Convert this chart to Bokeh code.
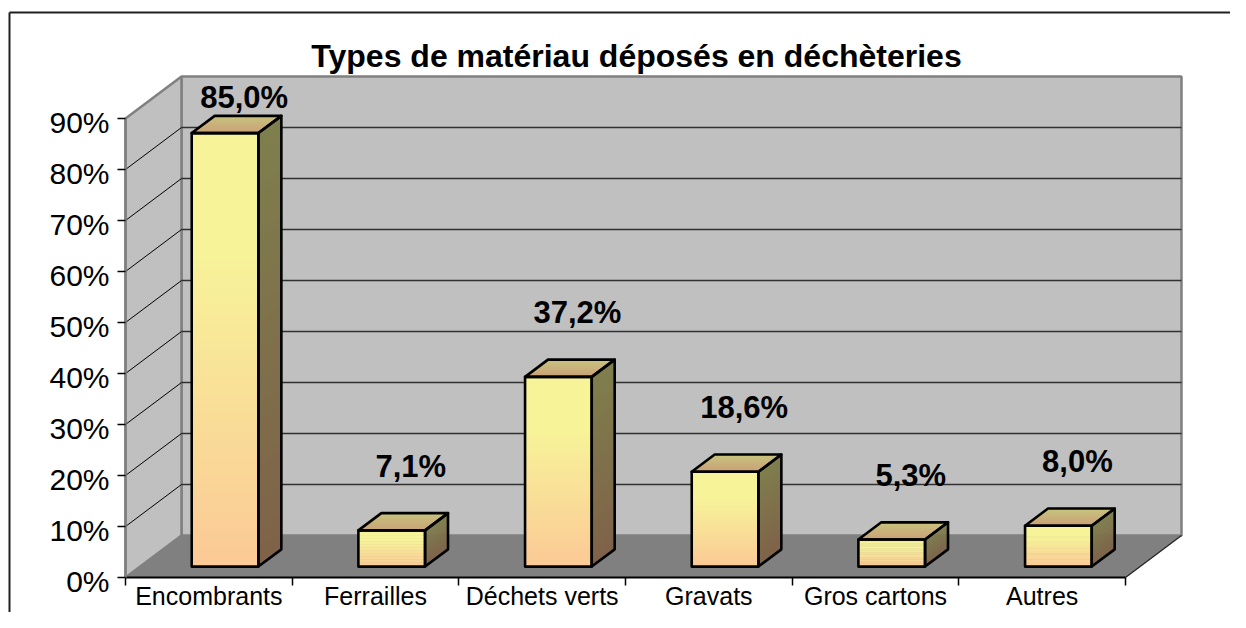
from bokeh.plotting import figure
from bokeh.models import ColumnDataSource, Range1d, LinearAxis, FixedTicker, Label
from bokeh.core.properties import value
from bokeh.embed import file_html
from bokeh.resources import INLINE

# ---------------- data ----------------
categories = ["Encombrants", "Ferrailles", "Déchets verts", "Gravats", "Gros cartons", "Autres"]
values = [85.0, 7.1, 37.2, 18.6, 5.3, 8.0]
ytick_values = [0, 10, 20, 30, 40, 50, 60, 70, 80, 90]
ytick_labels = ["0%", "10%", "20%", "30%", "40%", "50%", "60%", "70%", "80%", "90%"]
title_text = "Types de matériau déposés en déchèteries"

# ---------------- geometry / style ----------------
FONT = "Liberation Sans"
W, H = 1230, 612
PXC = 1000.0 / 6.0      # px per category
PXV = 5.1               # px per percent
ORIGIN_X = 125          # canvas px of category 0
ORIGIN_Y = 577          # canvas px of 0 %
x_start = -ORIGIN_X / PXC
x_end = x_start + W / PXC
y_start = -(H - ORIGIN_Y) / PXV
y_end = y_start + H / PXV

N = len(categories)
VMAX = ytick_values[-1]
DX = 56.0 / PXC         # depth offset (full depth) in category units
DY = 42.0 / PXV         # depth offset in percent units
D0, D1 = 0.26, 0.67     # bar depth span
BAR_OFF, BAR_W = 0.31, 0.40
NS, NT = 48, 14         # gradient strips
TEXT_SHIFT = 12.5 / PXV  # compensation for baseline placement of text glyphs


def hx(c):
    c = c.lstrip("#")
    return tuple(int(c[i:i + 2], 16) for i in (0, 2, 4))


def mix(c1, c2, t):
    a, b = hx(c1), hx(c2)
    t = max(0.0, min(1.0, t))
    return "#%02x%02x%02x" % tuple(int(round(a[i] + (b[i] - a[i]) * t)) for i in range(3))


FRONT_BOT, FRONT_TOP = "#fbc996", "#f7f399"
SIDE_BOT, SIDE_TOP = "#7f6249", "#7f7f4d"
TOP_FRONT, TOP_BACK = "#c9a078", "#c8c47e"


def P(fx, v, d):
    return fx + DX * d, v + DY * d


p = figure(width=W, height=H, output_backend="svg", toolbar_location=None,
           x_range=Range1d(x_start, x_end), y_range=Range1d(y_start, y_end),
           x_axis_type=None, y_axis_type=None, min_border=0,
           min_border_left=0, min_border_right=0, min_border_top=0, min_border_bottom=0)
p.outline_line_color = None
p.xgrid.visible = False
p.ygrid.visible = False
p.background_fill_color = "white"
p.border_fill_color = "white"
p.extra_y_ranges = {"lab": Range1d(y_start + 0.8, y_end + 0.8)}

# ---------------- chart border (top and left edges) ----------------
bx = x_start + 9 / PXC
by = y_end - 12 / PXV
p.segment(x0=[bx, bx], y0=[by, by], x1=[x_end, bx], y1=[by, y_start],
          line_color="#202020", line_width=2)

# ---------------- walls & floor ----------------
p.quad(left=DX, right=N + DX, bottom=DY, top=VMAX + DY,
       fill_color="#c0c0c0", line_color="#808080", line_width=2.5)
p.patch(x=[0, 0, DX, DX], y=[0, VMAX, VMAX + DY, DY],
        fill_color="#c0c0c0", line_color="#808080", line_width=2.5)
p.patch(x=[0, N, N + DX, DX], y=[0, 0, DY, DY], fill_color="#808080", line_color=None)
p.line(x=[N, N + DX], y=[0, DY], line_color="#202020", line_width=1.2)

grid_v = [t for t in ytick_values if 0 < t < VMAX]
p.segment(x0=[DX] * len(grid_v), x1=[N + DX] * len(grid_v),
          y0=[g + DY for g in grid_v], y1=[g + DY for g in grid_v],
          line_color="#303030", line_width=1.3)
p.segment(x0=[0] * len(grid_v), x1=[DX] * len(grid_v),
          y0=grid_v, y1=[g + DY for g in grid_v],
          line_color="#000000", line_width=1.0)

# ---------------- bars ----------------
fq = dict(left=[], right=[], bottom=[], top=[], color=[])
sp = dict(xs=[], ys=[], color=[])
tp = dict(xs=[], ys=[], color=[])
ol = dict(xs=[], ys=[])


def front_col(t):
    return mix(FRONT_BOT, FRONT_TOP, t / 0.72)


for i, v in enumerate(values):
    fl = i + BAR_OFF
    fr = fl + BAR_W
    xl, _ = P(fl, 0, D0)
    xr, base = P(fr, 0, D0)
    for k in range(NS):
        t0 = k / NS
        t1 = min(1.0, (k + 1) / NS + 0.6 / NS)
        tm = (k + 0.5) / NS
        fq["left"].append(xl)
        fq["right"].append(xr)
        fq["bottom"].append(base + v * t0)
        fq["top"].append(base + v * t1)
        fq["color"].append(front_col(tm))
        a0 = P(fr, v * t0, D0)
        a1 = P(fr, v * t1, D0)
        b1 = P(fr, v * t1, D1)
        b0 = P(fr, v * t0, D1)
        sp["xs"].append([a0[0], a1[0], b1[0], b0[0]])
        sp["ys"].append([a0[1], a1[1], b1[1], b0[1]])
        sp["color"].append(mix(SIDE_BOT, SIDE_TOP, tm))
    for k in range(NT):
        s0 = k / NT
        s1 = min(1.0, (k + 1) / NT + 0.6 / NT)
        da = D0 + (D1 - D0) * s0
        db = D0 + (D1 - D0) * s1
        q = [P(fl, v, da), P(fr, v, da), P(fr, v, db), P(fl, v, db)]
        tp["xs"].append([c[0] for c in q])
        tp["ys"].append([c[1] for c in q])
        tp["color"].append(mix(TOP_FRONT, TOP_BACK, (k + 0.5) / NT))
    for poly in ([P(fl, 0, D0), P(fl, v, D0), P(fr, v, D0), P(fr, 0, D0)],
                 [P(fr, 0, D0), P(fr, v, D0), P(fr, v, D1), P(fr, 0, D1)],
                 [P(fl, v, D0), P(fl, v, D1), P(fr, v, D1), P(fr, v, D0)]):
        ol["xs"].append([c[0] for c in poly])
        ol["ys"].append([c[1] for c in poly])

p.quad(left="left", right="right", bottom="bottom", top="top", fill_color="color",
       line_color=None, source=ColumnDataSource(fq))
p.patches(xs="xs", ys="ys", fill_color="color", line_color=None, source=ColumnDataSource(sp))
p.patches(xs="xs", ys="ys", fill_color="color", line_color=None, source=ColumnDataSource(tp))
p.patches(xs="xs", ys="ys", fill_alpha=0, line_color="black", line_width=2.6,
          line_join="round", source=ColumnDataSource(ol))

# ---------------- data labels ----------------
LABEL_GAP = 12.3
LABEL_CEIL = VMAX + DY - 6.6
lab_x = [i + BAR_OFF + BAR_W / 2 + DX * 0.6 for i in range(N)]
lab_y = [min(v + LABEL_GAP, LABEL_CEIL) + TEXT_SHIFT for v in values]
lab_t = [("%.1f%%" % v).replace(".", ",") for v in values]
p.text(x=lab_x, y=lab_y, text=lab_t, text_font=value(FONT), text_font_size="31px",
       text_font_style="bold", text_align="center", text_baseline="alphabetic",
       text_color="black")

# ---------------- axes ----------------
yaxis = LinearAxis(fixed_location=0, ticker=FixedTicker(ticks=ytick_values), bounds=(0, VMAX),
                   axis_line_color="#808080", axis_line_width=2.5,
                   major_tick_line_color="black", major_tick_line_width=1.5,
                   major_tick_out=8, major_tick_in=0, minor_tick_out=0, minor_tick_in=0,
                   major_label_text_font_size="0px", major_label_text_alpha=0,
                   major_label_overrides={t: "" for t in ytick_values})
p.add_layout(yaxis, "left")

ylab = LinearAxis(fixed_location=0, y_range_name="lab", ticker=FixedTicker(ticks=ytick_values),
                  axis_line_color=None, major_tick_line_color=None, minor_tick_line_color=None,
                  major_tick_out=0, major_tick_in=0, minor_tick_out=0, minor_tick_in=0,
                  major_label_standoff=16,
                  major_label_text_font=FONT, major_label_text_font_size="30px",
                  major_label_text_color="black",
                  major_label_overrides={t: s for t, s in zip(ytick_values, ytick_labels)})
p.add_layout(ylab, "left")

cat_pos = [i + 0.5 for i in range(N)]
xaxis = LinearAxis(fixed_location=0, bounds=(0, N),
                   ticker=FixedTicker(ticks=cat_pos, minor_ticks=list(range(N + 1))),
                   axis_line_color="black", axis_line_width=2,
                   major_tick_line_color=None, major_tick_out=0, major_tick_in=0,
                   minor_tick_line_color="black", minor_tick_line_width=1.5,
                   minor_tick_out=8, minor_tick_in=0,
                   major_label_text_font_size="0px", major_label_text_alpha=0,
                   major_label_overrides={c: "" for c in cat_pos})
p.add_layout(xaxis, "below")

xlab = LinearAxis(fixed_location=0, ticker=FixedTicker(ticks=cat_pos),
                  axis_line_color=None, major_tick_line_color=None, minor_tick_line_color=None,
                  major_tick_out=0, major_tick_in=0, minor_tick_out=0, minor_tick_in=0,
                  major_label_standoff=4,
                  major_label_text_font=FONT, major_label_text_font_size="25px",
                  major_label_text_color="black",
                  major_label_overrides={c: s for c, s in zip(cat_pos, categories)})
p.add_layout(xlab, "below")

# ---------------- title ----------------
p.add_layout(Label(x=N / 2 + 0.066, y=VMAX + DY + 1.5 + TEXT_SHIFT, text=title_text,
                   text_font=FONT, text_font_size="32px", text_font_style="bold",
                   text_align="center", text_baseline="alphabetic", text_color="black"))

open("out.html", "w").write(file_html(p, INLINE))
